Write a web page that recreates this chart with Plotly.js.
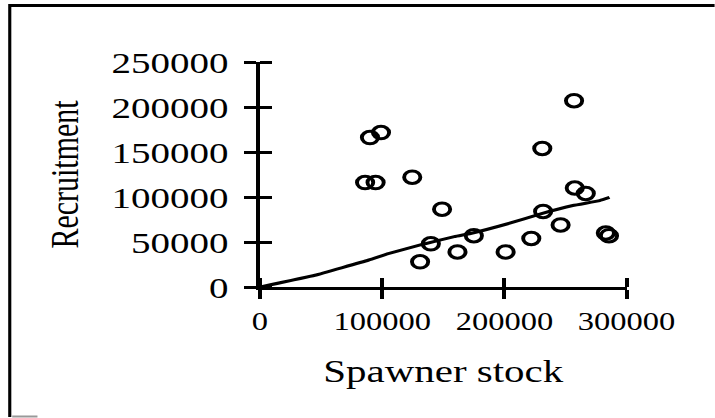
<!DOCTYPE html>
<html>
<head>
<meta charset="utf-8">
<script src="https://cdn.plot.ly/plotly-3.0.1.min.js"></script>
<style>
  html, body { margin: 0; padding: 0; background: #fff; overflow: hidden; }
  #chart { width: 550px; height: 418px; transform: scaleX(1.3); transform-origin: 0 0; }
</style>
</head>
<body>
<div id="chart"></div>
<script>
// Observed spawner stock / recruitment pairs
const spawnerStock = [86000, 90000, 94600, 99000, 124600, 131000, 139800, 149000, 161600, 175000,
                      201000, 222000, 231000, 231700, 246000, 257600, 257000, 266600, 283000, 285600];
const recruitment  = [116000, 166000, 116000, 171600, 122000, 28000, 48000, 86500, 39000, 57000,
                      39000, 54000, 154000, 84000, 69000, 110000, 207000, 104000, 60000, 57000];

// Fitted stock-recruitment curve
const fitStock   = [0, 45000, 89000, 105000, 132000, 159000, 174000, 202000, 229000, 256000, 278000, 286000];
const fitRecruit = [0, 13000, 30000, 37000, 47000, 56000, 60000, 70000, 81000, 90500, 96000, 99500];

// Axis ticks
const xTickVals = [0, 100000, 200000, 300000];
const xTickText = ['0', '100000', '200000', '300000'];
const yTickVals = [0, 50000, 100000, 150000, 200000, 250000];
const yTickText = ['0', '50000', '100000', '150000', '200000', '250000'];

const serif = 'Liberation Serif, Times New Roman, serif';

const traces = [
  {
    x: fitStock, y: fitRecruit, type: 'scatter', mode: 'lines',
    line: { color: '#000', width: 3, shape: 'spline', smoothing: 0.3 },
    showlegend: false, hoverinfo: 'skip'
  },
  {
    x: spawnerStock, y: recruitment, type: 'scatter', mode: 'markers',
    marker: { symbol: 'circle-open', size: 12.5, color: '#000', line: { width: 3, color: '#000' } },
    showlegend: false
  }
];

// inner half of the crossing tick marks (drawn as minor ticks at the major positions)
const crossOffset = v => v + 0.5;

const layout = {
  width: 550, height: 418,
  margin: { l: 200, r: 67.7, t: 62, b: 131, pad: 0 },
  paper_bgcolor: '#fff', plot_bgcolor: '#fff',
  font: { family: serif, color: '#000' },
  showlegend: false,
  xaxis: {
    range: [0, 300000], tickmode: 'array', tickvals: xTickVals, ticktext: xTickText,
    showgrid: false, zeroline: false, fixedrange: true,
    showline: true, linecolor: '#000', linewidth: 3,
    ticks: 'outside', ticklen: 9, tickwidth: 3, tickcolor: '#000',
    minor: { tickmode: 'array', tickvals: xTickVals.map(crossOffset), ticks: 'inside',
             ticklen: 9, tickwidth: 3, tickcolor: '#000', showgrid: false },
    tickfont: { family: serif, size: 25, color: '#000' },
    ticklabelstandoff: 1,
    title: { text: 'Spawner stock', font: { family: serif, size: 31.5, color: '#000' }, standoff: 26 },
    automargin: false
  },
  yaxis: {
    range: [0, 250000], tickmode: 'array', tickvals: yTickVals, ticktext: yTickText,
    showgrid: false, zeroline: false, fixedrange: true,
    showline: true, linecolor: '#000', linewidth: 3,
    ticks: 'outside', ticklen: 9.2, tickwidth: 3, tickcolor: '#000',
    minor: { tickmode: 'array', tickvals: yTickVals.map(crossOffset), ticks: 'inside',
             ticklen: 9.2, tickwidth: 3, tickcolor: '#000', showgrid: false },
    tickfont: { family: serif, size: 30, color: '#000' },
    ticklabelstandoff: 6,
    title: { text: 'Recruitment', font: { family: serif, size: 30, color: '#000' }, standoff: 17 },
    automargin: false
  },
  shapes: [
    // outer frame (left and top edges) and faint bottom mark
    { type: 'line', xref: 'paper', yref: 'paper', x0: -0.6826, x1: -0.6826, y0: 1.258, y1: -0.578,
      line: { color: '#000', width: 2.4 } },
    { type: 'line', xref: 'paper', yref: 'paper', x0: -0.6826, x1: 1.24, y0: 1.251, y1: 1.251,
      line: { color: '#000', width: 3 } },
    { type: 'line', xref: 'paper', yref: 'paper', x0: -0.676, x1: -0.607, y0: -0.5755, y1: -0.5755,
      line: { color: '#999', width: 2 } }
  ]
};

Plotly.newPlot('chart', traces, layout, { displayModeBar: false, staticPlot: true });
</script>
</body>
</html>
